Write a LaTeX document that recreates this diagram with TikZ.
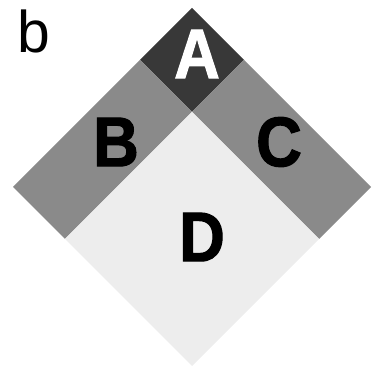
\documentclass[tikz,border=0pt]{standalone}
\usepackage{fontspec}
\setmainfont{Liberation Sans}
\newfontfamily\heavyfont[FakeBold=1.6,FakeStretch=0.9]{Liberation Sans Bold}
\begin{document}
\begin{tikzpicture}[x=0.02cm,y=0.02cm,
    letter/.style={font=\fontsize{40}{40}\heavyfont, inner sep=0pt},
    panel/.style={font=\fontsize{33.5}{33.5}\selectfont, inner sep=0pt}]
  \useasboundingbox (0,0) rectangle (372,376);
  % the four parts of the square
  \fill[black!78] (192,368) -- (140,316) -- (192,264) -- (244,316) -- cycle;
  \fill[black!46] (140,316) -- (13,189) -- (65,137) -- (192,264) -- cycle;
  \fill[black!46] (244,316) -- (371,189) -- (319,137) -- (192,264) -- cycle;
  \fill[black!7] (192,264) -- (65,137) -- (192,10) -- (319,137) -- cycle;

  \node[letter,white] (a) at (197,322) {A};
  \node[letter] (b) at (116,234) {B};
  \node[letter] (c) at (279,234) {C};
  \node[letter] (d) at (202,139) {D};
  \node[panel] (label) at (34,345) {b};
\end{tikzpicture}
\end{document}
